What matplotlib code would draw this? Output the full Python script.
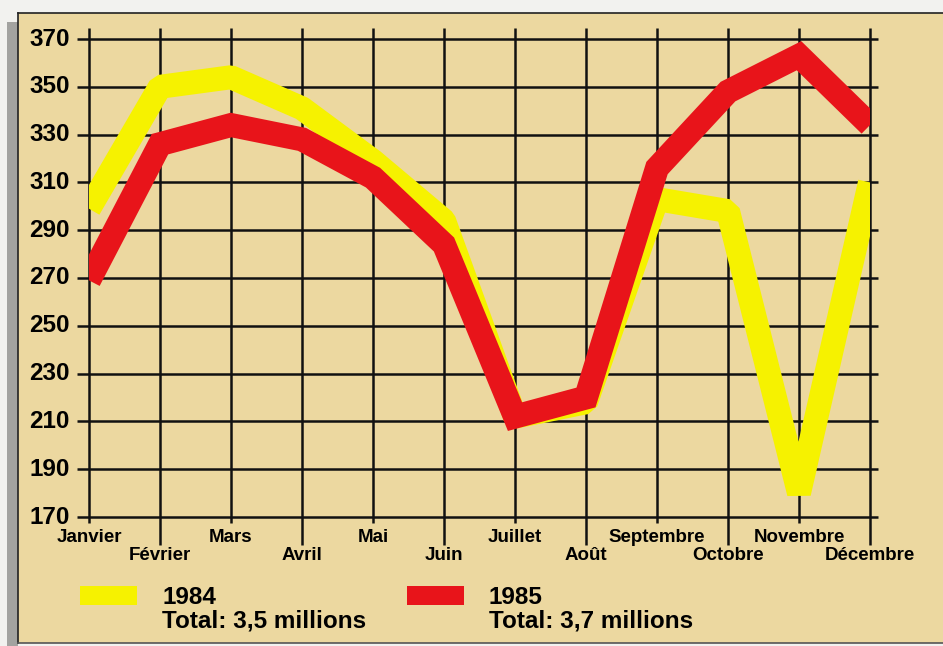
import matplotlib.pyplot as plt
from matplotlib.patches import Rectangle

# data (visites mensuelles, en milliers)
months = ['Janvier', 'Février', 'Mars', 'Avril', 'Mai', 'Juin', 'Juillet',
          'Août', 'Septembre', 'Octobre', 'Novembre', 'Décembre']
v1984 = [299, 350, 354, 341, 319, 294, 212, 218, 303, 298, 180, 310]
v1985 = [269, 326, 334, 328, 312, 284, 212, 220, 316, 348, 363, 334]
yticks = list(range(170, 371, 20))
legend_labels = ['1984', '1985']
legend_totals = ['Total: 3,5 millions', 'Total: 3,7 millions']

W, H = 943, 646
BG = '#ecd8a0'
YELLOW = '#f6f200'
RED = '#e8141a'
FONT = 'Liberation Sans'

fig = plt.figure(figsize=(W / 100, H / 100), dpi=100)
fig.patch.set_facecolor('#f2f2ef')

# overlay in pixel coordinates for frame and legend
deco = fig.add_axes([0, 0, 1, 1])
deco.set_xlim(0, W)
deco.set_ylim(H, 0)
deco.axis('off')
deco.add_patch(Rectangle((18, 13), W - 18, 630, facecolor=BG, edgecolor='none'))
deco.add_patch(Rectangle((7, 22), 11, H - 22, facecolor='#a3a3a0', edgecolor='none'))
deco.plot([18, W], [13, 13], color='#222222', lw=1.2)
deco.plot([18, 18], [13, 643], color='#222222', lw=1.2)
deco.plot([18, W], [643, 643], color='#555555', lw=1.2)

# chart axes: Janvier..Décembre, 170..370
x0, x1, ytop, ybot = 89, 870, 39, 517
ax = fig.add_axes([x0 / W, (H - ybot) / H, (x1 - x0) / W, (ybot - ytop) / H])
ax.set_xlim(0, 11)
ax.set_ylim(170, 370)
ax.axis('off')

pxx = 11 / (x1 - x0)
pxy = 200 / (ybot - ytop)
x = list(range(len(months)))

ax.hlines(yticks, -12 * pxx, 11 + 8 * pxx, color='#111111', lw=1.8,
          clip_on=False, zorder=1)
for i in x:
    low = 170 - (6 if i % 2 == 0 else 28) * pxy
    ax.vlines(i, low, 370 + 11 * pxy, color='#111111', lw=1.8,
              clip_on=False, zorder=1)

lw = 24 * 72 / 100
ax.plot(x, v1984, color=YELLOW, lw=lw, solid_joinstyle='bevel',
        solid_capstyle='butt', zorder=2)
ax.plot(x, v1985, color=RED, lw=lw, solid_joinstyle='miter',
        solid_capstyle='butt', zorder=3)

for v in yticks:
    ax.text(-19 * pxx, v, str(v), ha='right', va='center', fontsize=17.5,
            fontweight='bold', family=FONT, clip_on=False)

for i, m in enumerate(months):
    y = 170 - (20 if i % 2 == 0 else 39) * pxy
    ax.text(i, y, m, ha='center', va='center', fontsize=13.5,
            fontweight='bold', family=FONT, clip_on=False)

# legend
for lx, col, lab, tot in [(80, YELLOW, legend_labels[0], legend_totals[0]),
                          (407, RED, legend_labels[1], legend_totals[1])]:
    deco.add_patch(Rectangle((lx, 586), 57, 19, facecolor=col, edgecolor='none'))
    deco.text(lx + 82, 598, lab, ha='left', va='center', fontsize=17.5,
              fontweight='bold', family=FONT)
    deco.text(lx + 82, 621, tot, ha='left', va='center', fontsize=17.5,
              fontweight='bold', family=FONT)

fig.savefig('out.png', dpi=100, facecolor=fig.get_facecolor())
